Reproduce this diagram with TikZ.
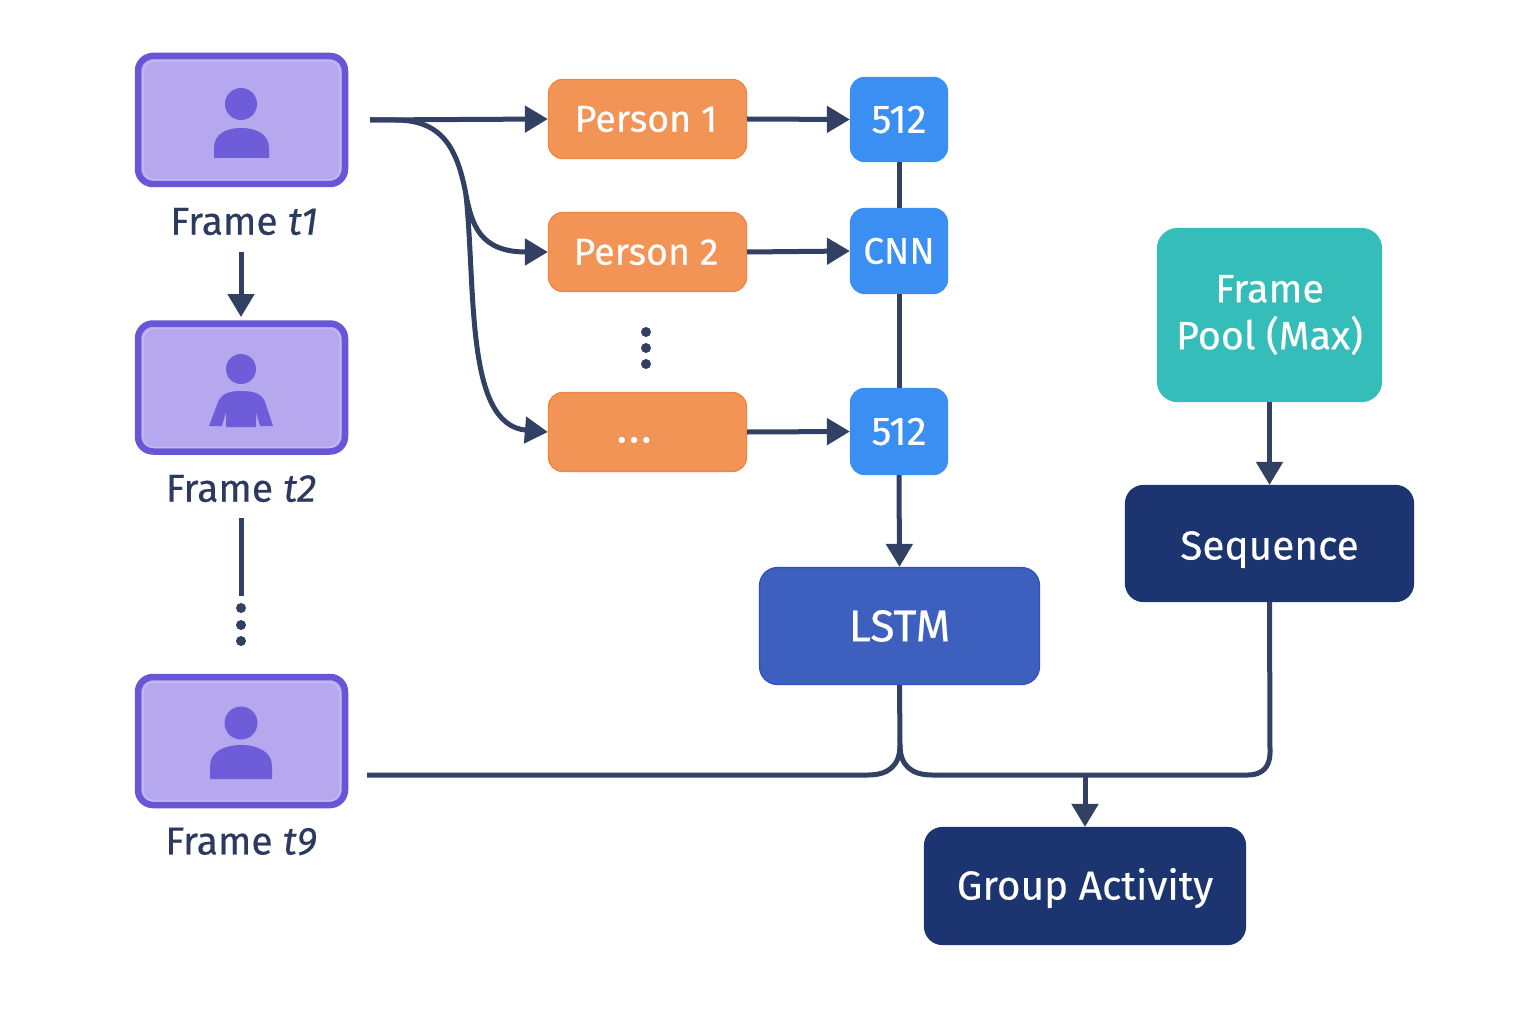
\documentclass[tikz,border=0pt]{standalone}
\usepackage{fontspec}
\setmainfont{Fira Sans}[FakeBold=0.35]
\usetikzlibrary{arrows.meta,calc}
\definecolor{lineC}{HTML}{324064}
\definecolor{frameB}{HTML}{6757D6}
\definecolor{frameF}{HTML}{B5A8EF}
\definecolor{frameI}{HTML}{C6BCF4}
\definecolor{iconC}{HTML}{6E5CD8}
\definecolor{orangeF}{HTML}{F29455}
\definecolor{orangeB}{HTML}{F0863E}
\definecolor{blueF}{HTML}{3B8FF3}
\definecolor{lstmF}{HTML}{3D60BE}
\definecolor{lstmB}{HTML}{2E50BC}
\definecolor{navyF}{HTML}{1C3570}
\definecolor{tealF}{HTML}{35BDB9}
\definecolor{labelC}{HTML}{2B3A5E}
\tikzset{
  x=1pt,y=-1pt,
  box/.style={rounded corners=#1,inner sep=0pt,line width=1.2pt,text=white,align=center},
  framebox/.style={draw=frameB,fill=frameF,line width=6.5pt,rounded corners=15pt,minimum width=207pt,minimum height=128pt,inner sep=0pt},
  innerline/.style={draw=frameI,line width=1.2pt,rounded corners=11pt},
  personbox/.style={box=14pt,draw=orangeB,fill=orangeF,minimum width=198pt,minimum height=79pt,font=\fontsize{37.5}{42}\selectfont},
  featbox/.style={box=14pt,draw=blueF,fill=blueF,minimum width=97pt},
  navybox/.style={box=18pt,draw=navyF,fill=navyF,font=\fontsize{40.5}{46}\selectfont,text depth=0pt},
  framelabel/.style={text=labelC,font=\fontsize{39}{42}\selectfont,inner sep=0pt},
  conn/.style={draw=lineC,line width=5pt},
  arrow/.style={conn,-{Triangle[length=23pt,width=26pt]}},
  dotc/.style={circle,fill=lineC,minimum size=10pt,inner sep=0pt},
  icon/.style={fill=iconC,draw=none}
}
\begin{document}
\begin{tikzpicture}
\useasboundingbox (0,0) rectangle (1536,1024);
\fill[white] (0,0) rectangle (1536,1024);

% frames
\node[framebox] (f1) at (241.5,120) {};
\node[framebox] (f2) at (241.5,387.5) {};
\node[framebox] (f3) at (241.5,741) {};
\draw[innerline] (143,61) rectangle (340,180);
\draw[innerline] (143,328.5) rectangle (340,447.5);
\draw[innerline] (143,682) rectangle (340,801);
\node[framelabel] (l1) at (244,221.5) {Frame \textit{t1}};
\node[framelabel] (l2) at (241,488.5) {Frame \textit{t2}};
\node[framelabel] (l3) at (241,841.5) {Frame \textit{t9}};

% icons
\fill[icon] (241,104) circle[radius=16];
\fill[icon] (214,158) -- (214,148) .. controls (214,134) and (226,128) .. (241,128) .. controls (256,128) and (269,134) .. (269,148) -- (269,158) -- cycle;
\fill[icon] (241,369) circle[radius=15];
\fill[icon] (209,426) -- (218,402) .. controls (222,393) and (230,391) .. (241,391) .. controls (252,391) and (262,393) .. (265,402) -- (273,426) -- (260,426) -- (256,412) -- (256,427) -- (226,427) -- (226,412) -- (222,426) -- cycle;
\fill[icon] (241,723) circle[radius=16.5];
\fill[icon] (210,779) -- (210,766) .. controls (210,752) and (224,745) .. (241,745) .. controls (258,745) and (272,752) .. (272,766) -- (272,779) -- cycle;

% person boxes
\node[personbox] (p1) at (647.5,119) {\hspace*{-3pt}Person 1};
\node[personbox] (p2) at (647.5,252) {\hspace*{-3pt}Person 2};
\node[personbox] (p3) at (647.5,432) {};
\node[text=white,inner sep=0pt] (p3t) at (634,440) {\tikz[x=1pt,y=1pt]{\fill (0,0) circle[radius=3.2] (12.3,0) circle[radius=3.2] (24.6,0) circle[radius=3.2];}};

% feature boxes
\node[featbox,minimum height=84pt,font=\fontsize{40}{44}\selectfont] (a1) at (899,119.5) {512};
\node[featbox,minimum height=85pt,font=\fontsize{37}{42}\selectfont] (a2) at (899,251) {CNN};
\node[featbox,minimum height=86pt,font=\fontsize{40}{44}\selectfont] (a3) at (899,431.5) {512};

% right-hand boxes
\node[box=18pt,draw=lstmB,fill=lstmF,minimum width=280pt,minimum height=117pt,font=\fontsize{44.5}{50}\selectfont] (lstm) at (899.5,626) {LSTM};
\node[box=20pt,draw=tealF,fill=tealF,minimum width=224pt,minimum height=173pt,font=\fontsize{39.5}{46}\selectfont] (pool) at (1269.5,315) {Frame\\[1pt]Pool (Max)};
\node[navybox,minimum width=288pt,minimum height=116pt,text height=32pt] (seq) at (1269.5,543.5) {Sequence};
\node[navybox,minimum width=321pt,minimum height=117pt,text height=27pt] (ga) at (1085,886) {Group Activity};

% free ends
\coordinate (src1) at (370,120);
\coordinate (src3) at (367,775);
\coordinate (lb) at (900,745);
\coordinate (br) at (466,195);
\coordinate (jn) at (1085,775);
\coordinate (l1b) at (241,252);
\coordinate (l2b) at (241,518);
\coordinate (l2e) at (241,596);
\coordinate (f2t) at (241,317);

% connectors
\draw[arrow] (l1b) -- (f2t);
\draw[conn] (l2b) -- (l2e);
\node[dotc] (d1) at (241,608) {};
\node[dotc] (d2) at (241,625) {};
\node[dotc] (d3) at (241,641) {};
\node[dotc] (d4) at (646,332) {};
\node[dotc] (d5) at (646,348) {};
\node[dotc] (d6) at (646,364) {};

\draw[arrow] (src1) -- (p1.west);
\draw[conn] (src1) -- (395,120) .. controls (440,120) and (457,145) .. (br);
\draw[arrow] (br) .. controls (472,225) and (480,252) .. (p2.west);
\draw[arrow] (br) .. controls (476,290) and (465,425) .. (p3.west);

\draw[arrow] (p1.east) -- (a1.west);
\draw[arrow] (p2.east) -- (a2.west);
\draw[arrow] (p3.east) -- (a3.west);
\draw[conn] (a1.south) -- (a2.north);
\draw[conn] (a2.south) -- (a3.north);
\draw[arrow] (a3.south) -- (lstm.north);
\draw[arrow] (pool.south) -- (seq.north);

\draw[conn] (lstm.south) -- (lb);
\draw[conn] (src3) -- (868,775) .. controls (888,775) and (900,766) .. (lb);
\draw[conn] (lb) .. controls (900,766) and (912,775) .. (932,775) -- (1248,775) .. controls (1262,775) and (1270,767) .. (1270,753) -- (seq.south);
\draw[arrow] (jn) -- (ga.north);
\end{tikzpicture}
\end{document}
